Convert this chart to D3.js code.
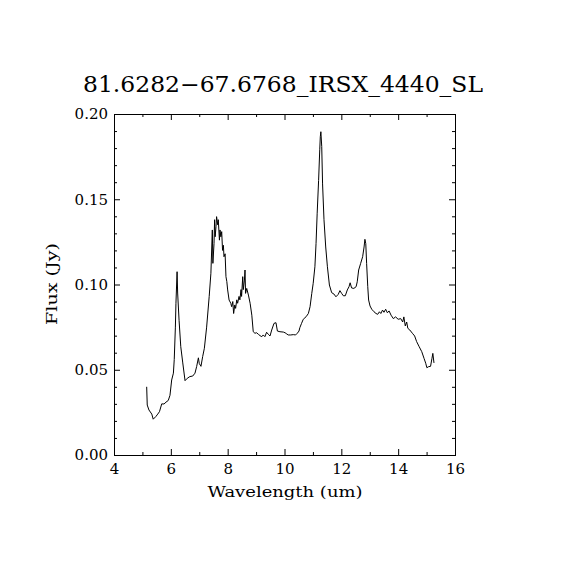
<!DOCTYPE html>
<html>
<head>
<meta charset="utf-8">
<script src="https://cdn.jsdelivr.net/npm/d3@7"></script>
<style>
  body { margin: 0; background: white; }
  text { font-family: "DejaVu Serif", serif; fill: black; }
</style>
</head>
<body>
<script>
// spectrum
const wavelength = [
  5.15, 5.17, 5.23, 5.33, 5.38, 5.47, 5.54, 5.60, 5.68, 5.76, 5.83, 5.91, 5.97, 6.03, 6.09, 6.12,
  6.16, 6.18, 6.22, 6.24, 6.29, 6.35, 6.42, 6.50, 6.58, 6.67, 6.77, 6.85, 6.91, 6.97, 7.00, 7.06,
  7.12, 7.18, 7.26, 7.35, 7.41, 7.46, 7.48, 7.52, 7.54, 7.56, 7.59, 7.61, 7.65, 7.67, 7.71, 7.73,
  7.76, 7.79, 7.82, 7.85, 7.87, 7.91, 7.94, 7.97, 8.00, 8.05, 8.11, 8.14, 8.18, 8.21, 8.25, 8.28,
  8.32, 8.35, 8.40, 8.43, 8.47, 8.49, 8.53, 8.55, 8.59, 8.61, 8.63, 8.67, 8.73, 8.79, 8.85, 8.90,
  8.96, 9.02, 9.08, 9.14, 9.20, 9.25, 9.31, 9.37, 9.43, 9.49, 9.55, 9.63, 9.70, 9.75, 9.84, 9.96,
  10.02, 10.08, 10.13, 10.22, 10.31, 10.39, 10.45, 10.51, 10.54, 10.60, 10.66, 10.76, 10.84, 10.90,
  10.96, 11.01, 11.07, 11.11, 11.15, 11.20, 11.24, 11.26, 11.28, 11.31, 11.34, 11.39, 11.45, 11.51,
  11.58, 11.66, 11.74, 11.81, 11.89, 11.95, 12.01, 12.07, 12.14, 12.21, 12.27, 12.31, 12.36, 12.44,
  12.52, 12.56, 12.61, 12.68, 12.75, 12.80, 12.83, 12.86, 12.89, 12.93, 12.96, 13.01, 13.07, 13.15,
  13.22, 13.28, 13.34, 13.39, 13.45, 13.50, 13.56, 13.62, 13.68, 13.75, 13.83, 13.91, 14.00, 14.09,
  14.16, 14.20, 14.25, 14.30, 14.34, 14.41, 14.50, 14.58, 14.65, 14.74, 14.83, 14.91, 14.97, 15.01,
  15.07, 15.14, 15.19, 15.22, 15.26
];
const flux = [
  0.040, 0.0293, 0.0264, 0.024, 0.021, 0.0225, 0.024, 0.0254, 0.030, 0.0299, 0.031, 0.032, 0.035, 0.044, 0.048, 0.056,
  0.075, 0.089, 0.1075, 0.095, 0.079, 0.0635, 0.054, 0.0436, 0.045, 0.046, 0.0463, 0.048, 0.052, 0.057, 0.0537, 0.052,
  0.0577, 0.0626, 0.075, 0.093, 0.1066, 0.132, 0.1124, 0.124, 0.138, 0.128, 0.134, 0.1398, 0.135, 0.138, 0.126, 0.132,
  0.128, 0.131, 0.120, 0.123, 0.1163, 0.118, 0.1046, 0.1017, 0.0968, 0.0909, 0.089, 0.087, 0.090, 0.083, 0.088, 0.086,
  0.091, 0.089, 0.093, 0.091, 0.097, 0.093, 0.1046, 0.097, 0.1026, 0.1085, 0.0948, 0.0977, 0.0938, 0.089, 0.082, 0.0723,
  0.0714, 0.0717, 0.0708, 0.070, 0.0694, 0.0704, 0.0694, 0.072, 0.0708, 0.0698, 0.0733, 0.0772, 0.0776, 0.0727, 0.0723, 0.0721,
  0.0717, 0.071, 0.0704, 0.0704, 0.0706, 0.0704, 0.0714, 0.0727, 0.0747, 0.0772, 0.0796, 0.0811, 0.083, 0.087,
  0.0948, 0.1007, 0.1104, 0.124, 0.1418, 0.161, 0.179, 0.1867, 0.1896, 0.181, 0.159, 0.138, 0.122, 0.1104,
  0.0997, 0.0952, 0.0944, 0.0928, 0.0942, 0.0964, 0.0948, 0.0934, 0.0934, 0.0968, 0.0987, 0.101, 0.098, 0.0977,
  0.0987, 0.1016, 0.1085, 0.1124, 0.1163, 0.122, 0.1265, 0.124, 0.1124, 0.0987, 0.0909, 0.0874, 0.0855, 0.084,
  0.083, 0.0825, 0.084, 0.083, 0.085, 0.0837, 0.0855, 0.0834, 0.0845, 0.082, 0.080, 0.081, 0.0796, 0.080,
  0.078, 0.081, 0.0757, 0.078, 0.0743, 0.0733, 0.0714, 0.0698, 0.0665, 0.0635, 0.0606, 0.0567, 0.0538, 0.0512,
  0.0518, 0.052, 0.0567, 0.0596, 0.054
];
const xTicks = [4, 6, 8, 10, 12, 14, 16];
const xMinor = [5, 7, 9, 11, 13, 15];
const yTicks = [0, 0.05, 0.10, 0.15, 0.20];
const yMinor = d3.range(1, 20).map(d => d / 100).filter(d => Math.round(d * 100) % 5 !== 0);

const titleText = "81.6282\u221267.6768_IRSX_4440_SL";

const svg = d3.select("body").append("svg")
  .attr("width", 570)
  .attr("height", 570);

const pLeft = 114, pRight = 455, pTop = 114, pBottom = 455;

const x = d3.scaleLinear().domain([4, 16]).range([pLeft, pRight]);
const y = d3.scaleLinear().domain([0, 0.2]).range([pBottom, pTop]);

function tidy(g) {
  g.select(".domain").remove();
  g.selectAll("line").attr("stroke", "black").attr("stroke-width", 1);
  g.selectAll("text").attr("font-size", "15px").attr("font-family", "DejaVu Serif");
}

// bottom
svg.append("g").attr("transform", `translate(0,${pBottom})`)
  .call(d3.axisBottom(x).tickValues(xTicks).tickFormat(d3.format("d")).tickSize(-6).tickPadding(8))
  .call(tidy);
svg.append("g").attr("transform", `translate(0,${pBottom})`)
  .call(d3.axisBottom(x).tickValues(xMinor).tickFormat("").tickSize(-3))
  .call(tidy);
// top
svg.append("g").attr("transform", `translate(0,${pTop})`)
  .call(d3.axisTop(x).tickValues(xTicks).tickFormat("").tickSize(-6))
  .call(tidy);
svg.append("g").attr("transform", `translate(0,${pTop})`)
  .call(d3.axisTop(x).tickValues(xMinor).tickFormat("").tickSize(-3))
  .call(tidy);
// left
svg.append("g").attr("transform", `translate(${pLeft},0)`)
  .call(d3.axisLeft(y).tickValues(yTicks).tickFormat(d3.format(".2f")).tickSize(-6).tickPadding(6))
  .call(tidy);
svg.append("g").attr("transform", `translate(${pLeft},0)`)
  .call(d3.axisLeft(y).tickValues(yMinor).tickFormat("").tickSize(-3))
  .call(tidy);
// right
svg.append("g").attr("transform", `translate(${pRight},0)`)
  .call(d3.axisRight(y).tickValues(yTicks).tickFormat("").tickSize(-6))
  .call(tidy);
svg.append("g").attr("transform", `translate(${pRight},0)`)
  .call(d3.axisRight(y).tickValues(yMinor).tickFormat("").tickSize(-3))
  .call(tidy);

// frame
svg.append("rect")
  .attr("x", pLeft + 0.5)
  .attr("y", pTop + 0.5)
  .attr("width", pRight - pLeft)
  .attr("height", pBottom - pTop)
  .attr("fill", "none")
  .attr("stroke", "black")
  .attr("stroke-width", 1);

// spectrum
const line = d3.line()
  .x(d => x(d[0]))
  .y(d => y(d[1]));

svg.append("path")
  .datum(d3.zip(wavelength, flux))
  .attr("fill", "none")
  .attr("stroke", "black")
  .attr("stroke-width", 1)
  .attr("d", line);

// title and labels
svg.append("text")
  .attr("x", 283)
  .attr("y", 92)
  .attr("text-anchor", "middle")
  .attr("font-size", "22px")
  .attr("textLength", 400)
  .attr("lengthAdjust", "spacingAndGlyphs")
  .text(titleText);

svg.append("text")
  .attr("x", 285)
  .attr("y", 497)
  .attr("text-anchor", "middle")
  .attr("font-size", "15px")
  .attr("textLength", 155)
  .attr("lengthAdjust", "spacingAndGlyphs")
  .text("Wavelength (um)");

svg.append("text")
  .attr("transform", "translate(57,284) rotate(-90)")
  .attr("text-anchor", "middle")
  .attr("font-size", "15px")
  .attr("textLength", 82)
  .attr("lengthAdjust", "spacingAndGlyphs")
  .text("Flux (Jy)");
</script>
</body>
</html>
